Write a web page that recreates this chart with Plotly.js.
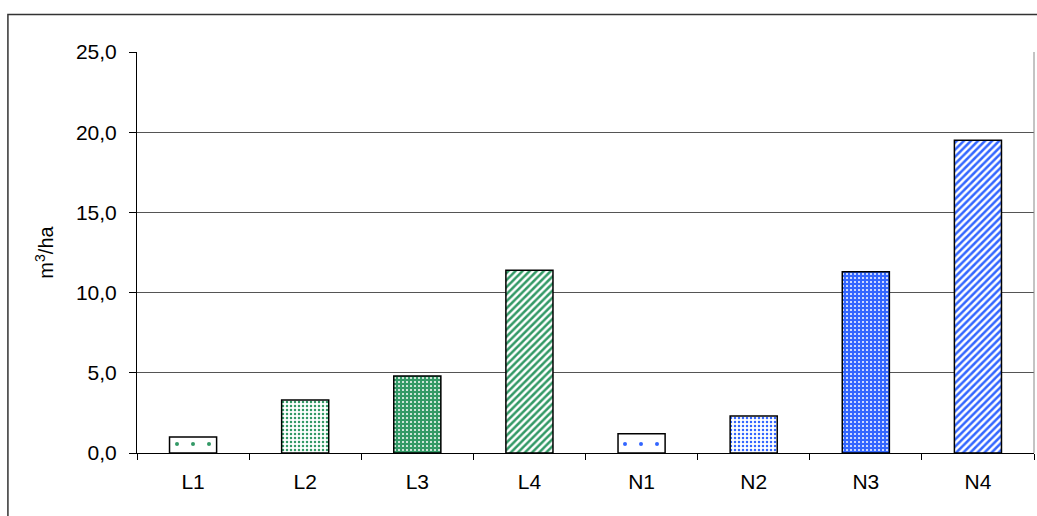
<!DOCTYPE html>
<html>
<head>
<meta charset="utf-8">
<script src="https://cdn.plot.ly/plotly-3.0.1.min.js"></script>
<style>
html,body{margin:0;padding:0;background:#fff;}
#chart{width:1037px;height:516px;}
</style>
</head>
<body>
<div id="chart"></div>
<script>
const categories = ["L1","L2","L3","L4","N1","N2","N3","N4"];
const values = [1.0, 3.3, 4.8, 11.4, 1.2, 2.3, 11.3, 19.5];
const yTickValues = [0, 5, 10, 15, 20, 25];

const GREEN = "#339966";
const BLUE = "#3366FF";
const patShape = [".", ".", ".", "/", ".", ".", ".", "/"];
const patFg = [GREEN, GREEN, "#ffffff", "#ffffff", BLUE, BLUE, "#ffffff", "#ffffff"];
const patBg = ["#ffffff", "#ffffff", GREEN, GREEN, "#ffffff", "#ffffff", BLUE, BLUE];
const patSize = [16, 4, 4, 5, 16, 4, 4, 5];
const patSolid = [0.05, 0.3, 0.2, 0.5, 0.05, 0.3, 0.2, 0.5];

const traces = categories.map((c, i) => ({
  type: "bar",
  x: [c],
  y: [values[i]],
  width: 0.42,
  marker: {
    color: patBg[i],
    line: {color: "#000000", width: 1.5},
    pattern: {
      shape: patShape[i],
      fgcolor: patFg[i],
      bgcolor: patBg[i],
      size: patSize[i],
      solidity: patSolid[i],
      fillmode: "replace"
    }
  },
  hoverinfo: "x+y"
}));

const layout = {
  width: 1037,
  height: 516,
  margin: {l: 137, r: 3, t: 52, b: 63},
  paper_bgcolor: "#ffffff",
  plot_bgcolor: "#ffffff",
  font: {family: "Liberation Sans, Arial, sans-serif", size: 21, color: "#000000"},
  separators: ",.",
  barmode: "overlay",
  showlegend: false,
  xaxis: {
    type: "category",
    categoryorder: "array",
    categoryarray: categories,
    tickson: "boundaries",
    ticks: "outside",
    ticklen: 6,
    tickcolor: "#000000",
    showline: true,
    linecolor: "#000000",
    linewidth: 1,
    showgrid: false,
    zeroline: false,
    ticklabelstandoff: 10,
    tickfont: {size: 21}
  },
  yaxis: {
    range: [0, 25],
    tickvals: yTickValues,
    tickformat: ".1f",
    ticks: "outside",
    ticklen: 7,
    tickcolor: "#000000",
    showline: true,
    linecolor: "#000000",
    linewidth: 1,
    showgrid: true,
    gridcolor: "#555555",
    gridwidth: 1,
    zeroline: false,
    ticklabelstandoff: 8,
    tickfont: {size: 21},
    title: {text: "m<sup>3</sup>/ha", font: {size: 20}, standoff: 16}
  },
  shapes: [
    {type: "line", xref: "paper", yref: "paper", x0: 1, x1: 1, y0: 0, y1: 1,
     line: {color: "#888888", width: 1}},
    {type: "rect", xref: "paper", yref: "paper",
     x0: -0.1439, x1: 1.05, y0: -0.3, y1: 1.0935,
     line: {color: "#333333", width: 1.5}, fillcolor: "rgba(0,0,0,0)", layer: "below"}
  ]
};

Plotly.newPlot("chart", traces, layout, {displayModeBar: false, staticPlot: true});
</script>
</body>
</html>
